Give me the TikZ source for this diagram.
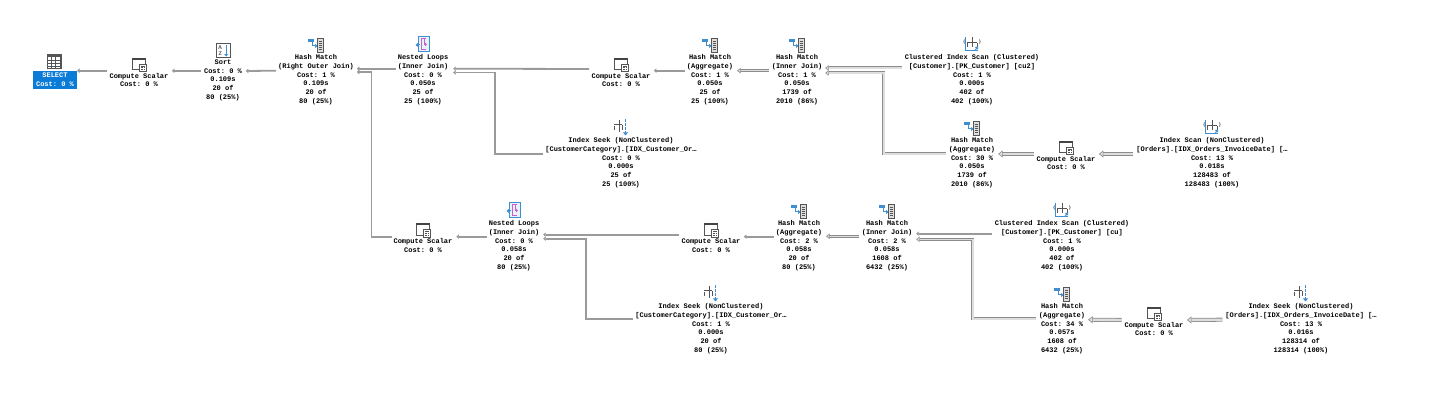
\documentclass[tikz,border=0pt]{standalone}
\usepackage{fontspec}
\setmonofont{Liberation Mono}
\usetikzlibrary{arrows.meta}
\definecolor{flowgray}{HTML}{9A9A9A}
\definecolor{pipegray}{HTML}{8C8C8C}
\definecolor{flowfill}{HTML}{DEDEDE}
\definecolor{icongray}{HTML}{555555}
\definecolor{iconblue}{HTML}{3D8FD1}
\definecolor{iconpink}{HTML}{C95FC8}
\definecolor{selblue}{HTML}{0A7BD6}
\tikzset{
  opnode/.style={inner sep=0pt,outer sep=0pt,align=center,font=\ttfamily\bfseries\fontsize{7}{8.8}\selectfont},
  selnode/.style={opnode,fill=selblue,text=white,minimum width=44pt,minimum height=18pt},
  flow/.style={draw=flowgray,line width=1.8pt,-{Triangle[length=2.5pt,width=4.5pt]}},
  thinpipe/.style={draw=pipegray,line width=.9pt,double=flowfill,double distance=1.2pt,-{Triangle[open,length=3.5pt,width=5.5pt,fill=flowfill,line width=.6pt]}},
  widepipe/.style={draw=pipegray,line width=.8pt,double=flowfill,double distance=2.4pt,-{Triangle[open,length=4.5pt,width=7pt,fill=flowfill,line width=.6pt]}},
  gridicon/.pic={
    \fill[icongray] (-7.5,-7) rectangle (7.5,8);
    \fill[white] (-6,-4) rectangle (6,7);
    \foreach \i in {-1,2,5} \draw[icongray,line width=.6pt] (-6,\i) -- (6,\i);
    \foreach \i in {-2.5,1.5} \draw[icongray,line width=.6pt] (\i,-4) -- (\i,7);
  },
  computeicon/.pic={
    \fill[icongray!80!black] (-7,-7) rectangle (7,-5);
    \draw[icongray,line width=.7pt] (-6.6,-5) -- (-6.6,5) -- (0,5);
    \draw[icongray,line width=.7pt] (6.6,-5) -- (6.6,0);
    \draw[icongray,fill=white,line width=.7pt] (0.5,-0.5) rectangle (7,7);
    \fill[icongray] (2,1) rectangle (5.5,2);
    \foreach \i in {3.2,5} \draw[icongray,line width=.7pt,dash pattern=on .8pt off .6pt] (2,\i) -- (5.6,\i);
  },
  sorticon/.pic={
    \draw[icongray,fill=white,line width=.9pt] (-7,-7) rectangle (7,7);
    \node[inner sep=0pt,font=\sffamily\bfseries\fontsize{5.5}{5.5}\selectfont,text=icongray] (toprow) at (-2.8,-3) {A};
    \node[inner sep=0pt,font=\sffamily\bfseries\fontsize{5.5}{5.5}\selectfont,text=icongray] (botrow) at (-2.8,3) {Z};
    \draw[iconblue,line width=1.1pt,-{Triangle[length=2.5pt,width=4pt]}] (3.2,-5.5) -- (3.2,6);
  },
  hashicon/.pic={
    \draw[icongray,fill=flowfill,line width=.8pt] (1.5,-7) rectangle (7.5,7);
    \foreach \i in {-4,-2,0,2,4} \draw[icongray,line width=.5pt] (3,\i) -- (6,\i);
    \fill[iconblue] (-8,-6.5) rectangle (-2.5,-3.5);
    \draw[iconblue,line width=1pt,-{Triangle[length=2.5pt,width=4pt]}] (-3.5,-4) -- (-3.5,0.5) -- (1.5,0.5);
  },
  loopicon/.pic={
    \draw[iconblue,fill=iconblue!12,line width=.9pt] (-5,-7.5) rectangle (6.5,7);
    \draw[iconpink,line width=1pt] (3,-5.5) -- (-1.5,-5.5) -- (-1.5,5.5) -- (3,5.5);
    \draw[iconpink,line width=1pt,-{Triangle[length=2pt,width=3.5pt]}] (1,-5.5) -- (1,0) -- (4,0);
    \draw[iconblue,line width=1pt,{Triangle[length=2.5pt,width=4pt]}-] (-7.5,0.5) -- (-3,0.5);
  },
  seekicon/.pic={
    \draw[icongray,line width=.9pt] (-7,-1) -- (-7,3) (-7,-2.5) -- (1,-2.5) (-1.5,-7) -- (-1.5,5) (1,-2.5) -- (1,3);
    \draw[iconblue,line width=1pt,dash pattern=on 3pt off 1pt,-{Triangle[length=3pt,width=5pt]}] (4.5,-8) -- (4.5,8);
  },
  scanicon/.pic={
    \draw[iconblue,line width=1pt] (-6.5,-7.5) -- (-6.5,6.5) -- (6,6.5);
    \draw[icongray,line width=.9pt] (0,-7.5) -- (0,3) (-5,-1.5) -- (5,-1.5) (-5,-1.5) -- (-5,3) (5,-1.5) -- (5,3);
    \draw[icongray,line width=.7pt] (-7.5,-1) arc[start angle=140,end angle=220,radius=3] (7.5,-1) arc[start angle=40,end angle=-40,radius=3];
    \draw[iconblue,line width=1pt,-{Triangle[length=2.5pt,width=4pt]}] (3,6) -- (6,2);
  },
}
\begin{document}
\begin{tikzpicture}[x=1pt,y=-1pt]
\useasboundingbox (0,0) rectangle (1446,411);
% upper branch
\node[selnode] (selA) at (55,80) {SELECT\\Cost: 0 \%};
\node[opnode] (compA) at (139,80) {Compute Scalar\\Cost: 0 \%};
\node[opnode] (sortA) at (223,80.2) {Sort\\Cost: 0 \%\\0.109s\\20 of\\80 (25\%)};
\node[opnode] (hashA) at (316,79.7) {Hash Match\\(Right Outer Join)\\Cost: 1 \%\\0.109s\\20 of\\80 (25\%)};
\node[opnode] (loopA) at (423,79.7) {Nested Loops\\(Inner Join)\\Cost: 0 \%\\0.050s\\25 of\\25 (100\%)};
\node[opnode] (compB) at (621,80) {Compute Scalar\\Cost: 0 \%};
\node[opnode] (seekA) at (621,162.7) {Index Seek (NonClustered)\\{[CustomerCategory].[IDX\_Customer\_Or…}\\Cost: 0 \%\\0.000s\\25 of\\25 (100\%)};
\node[opnode] (hashB) at (710,79.7) {Hash Match\\(Aggregate)\\Cost: 1 \%\\0.050s\\25 of\\25 (100\%)};
\node[opnode] (hashC) at (797,79.7) {Hash Match\\(Inner Join)\\Cost: 1 \%\\0.050s\\1739 of\\2010 (86\%)};
\node[opnode] (scanA) at (972,79.7) {Clustered Index Scan (Clustered)\\{[Customer].[PK\_Customer] [cu2]}\\Cost: 1 \%\\0.000s\\402 of\\402 (100\%)};
\node[opnode] (hashD) at (972,162.7) {Hash Match\\(Aggregate)\\Cost: 30 \%\\0.050s\\1739 of\\2010 (86\%)};
\node[opnode] (compC) at (1066,163) {Compute Scalar\\Cost: 0 \%};
\node[opnode] (scanB) at (1212,162.7) {Index Scan (NonClustered)\\{[Orders].[IDX\_Orders\_InvoiceDate] […}\\Cost: 13 \%\\0.018s\\128483 of\\128483 (100\%)};
% lower branch
\node[opnode] (compD) at (423,245.7) {Compute Scalar\\Cost: 0 \%};
\node[opnode] (loopB) at (514,245.7) {Nested Loops\\(Inner Join)\\Cost: 0 \%\\0.058s\\20 of\\80 (25\%)};
\node[opnode] (compE) at (711,245.7) {Compute Scalar\\Cost: 0 \%};
\node[opnode] (seekB) at (711,328.7) {Index Seek (NonClustered)\\{[CustomerCategory].[IDX\_Customer\_Or…}\\Cost: 1 \%\\0.000s\\20 of\\80 (25\%)};
\node[opnode] (hashE) at (799,245.7) {Hash Match\\(Aggregate)\\Cost: 2 \%\\0.058s\\20 of\\80 (25\%)};
\node[opnode] (hashF) at (887,245.7) {Hash Match\\(Inner Join)\\Cost: 2 \%\\0.058s\\1608 of\\6432 (25\%)};
\node[opnode] (scanC) at (1062,245.7) {Clustered Index Scan (Clustered)\\{[Customer].[PK\_Customer] [cu]}\\Cost: 1 \%\\0.000s\\402 of\\402 (100\%)};
\node[opnode] (hashG) at (1062,328.7) {Hash Match\\(Aggregate)\\Cost: 34 \%\\0.057s\\1608 of\\6432 (25\%)};
\node[opnode] (compF) at (1154,329) {Compute Scalar\\Cost: 0 \%};
\node[opnode] (seekC) at (1301,328.7) {Index Seek (NonClustered)\\{[Orders].[IDX\_Orders\_InvoiceDate] […}\\Cost: 13 \%\\0.016s\\128314 of\\128314 (100\%)};
% icons
\pic at (54,61) {gridicon};
\foreach \n in {compA,compB,compD,compE,compC,compF}
  \pic at ([yshift=8.5pt]\n.north) {computeicon};
\pic at ([yshift=9pt]sortA.north) {sorticon};
\foreach \n in {hashA,hashB,hashC,hashD,hashE,hashF,hashG}
  \pic at ([yshift=9pt]\n.north) {hashicon};
\foreach \n in {loopA,loopB}
  \pic at ([yshift=10pt]\n.north) {loopicon};
\foreach \n in {seekA,seekB,seekC}
  \pic at ([yshift=10pt]\n.north) {seekicon};
\foreach \n in {scanA,scanB,scanC}
  \pic at ([yshift=10pt]\n.north) {scanicon};
% connectors, upper branch
\draw[flow] ([shift={(-3,-9.2)}]compA.west) -- ([shift={(0,-9.2)}]selA.east);
\draw[flow] ([shift={(-3,-9.2)}]sortA.west |- compA.west) -- ([shift={(3.5,-9.2)}]compA.east);
\draw[flow] ([shift={(-2,-9)}]hashA.west) -- ([shift={(4,-9.2)}]sortA.east);
\draw[flow] ([shift={(-2,-11)}]loopA.west) -- ([shift={(3,-11)}]hashA.east);
\draw[flow] ([shift={(-2,-9)}]compD.west) -- ++(-20,0) |- ([shift={(3,-7.7)}]hashA.east);
\draw[flow] ([shift={(-2.5,-11)}]compB.west) -- ([shift={(5,-11)}]loopA.east);
\draw[flow] ([shift={(-2,-8.7)}]seekA.west) -- ++(-48,0) |- ([shift={(5,-7.2)}]loopA.east);
\draw[flow] ([shift={(-2,-9)}]hashB.west) -- ([shift={(3.5,-9.3)}]compB.east);
\draw[thinpipe] ([shift={(-3,-9)}]hashC.west) -- ([shift={(4,-9)}]hashB.east);
\draw[thinpipe] ([shift={(-3,-11.7)}]scanA.west) -- ([shift={(3,-11.7)}]hashC.east);
\draw[thinpipe] ([shift={(-3,-8.7)}]hashD.west) -- ++(-62,0) |- ([shift={(3,-6.7)}]hashC.east);
\draw[widepipe] ([shift={(-3,-9)}]compC.west) -- ([shift={(3,-8.7)}]hashD.east);
\draw[widepipe] ([shift={(-3,-8.7)}]scanB.west) -- ([shift={(3.5,-9)}]compC.east);
% connectors, lower branch
\draw[flow] ([shift={(-2,-9)}]loopB.west) -- ([shift={(4,-9)}]compD.east);
\draw[flow] ([shift={(-3,-11)}]compE.west) -- ([shift={(4,-11)}]loopB.east);
\draw[flow] ([shift={(-2,-9.7)}]seekB.west) -- ++(-47,0) |- ([shift={(4,-7)}]loopB.east);
\draw[flow] ([shift={(-2,-9)}]hashE.west) -- ([shift={(3.5,-9)}]compE.east);
\draw[thinpipe] ([shift={(-3,-9.4)}]hashF.west) -- ([shift={(4,-9.4)}]hashE.east);
\draw[flow] ([shift={(-3,-12)}]scanC.west) -- ([shift={(4,-12)}]hashF.east);
\draw[thinpipe] ([shift={(-3,-9.7)}]hashG.west) -- ++(-63,0) |- ([shift={(4,-6.4)}]hashF.east);
\draw[widepipe] ([shift={(-3,-9)}]compF.west) -- ([shift={(3,-9)}]hashG.east);
\draw[widepipe] ([shift={(-3,-9)}]seekC.west) -- ([shift={(3.5,-9)}]compF.east);
\end{tikzpicture}
\end{document}
